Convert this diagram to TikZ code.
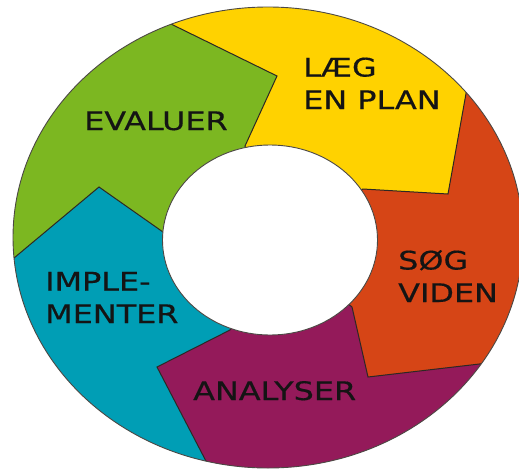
\documentclass[tikz,border=0pt]{standalone}
\usepackage{fontspec}
\setmainfont{DejaVu Sans}[FakeStretch=1.25,FakeBold=0.5]
\usetikzlibrary{calc}
\definecolor{cgreen}{RGB}{124,183,33}
\definecolor{cyellow}{RGB}{255,210,0}
\definecolor{cred}{RGB}{214,69,22}
\definecolor{cpurple}{RGB}{148,26,90}
\definecolor{cteal}{RGB}{0,158,181}
\definecolor{cline}{RGB}{45,40,35}
\definecolor{ctext}{RGB}{20,20,20}
\tikzset{
  border/.style={draw=cline, line width=1pt, line join=miter},
  rim/.style={draw=cline!85, line width=0.9pt},
  lbl/.style={inner sep=0pt, anchor=base west, align=left, text=ctext,
    font=\fontsize{25.5}{32.5}\selectfont}
}
\begin{document}
\begin{tikzpicture}[x=1pt,y=-1pt]
\useasboundingbox (0,0) rectangle (519,471);
\coordinate (c) at (270,240);
% boundaries: outer, tip, inner
\coordinate (o1) at (173,25);  \coordinate (t1) at (277,76);  \coordinate (i1) at (245,146);
\coordinate (o2) at (467,88);  \coordinate (t2) at (448,194); \coordinate (i2) at (363,189);
\coordinate (o3) at (488,363); \coordinate (t3) at (368,377); \coordinate (i3) at (352,307);
\coordinate (o4) at (207,463); \coordinate (t4) at (157,367); \coordinate (i4) at (230,330);
\coordinate (o5) at (14,258);  \coordinate (t5) at (99,187);  \coordinate (i5) at (163,232);
\foreach \k in {1,...,5}{
  \coordinate (e\k) at ($(t\k)!1.5!(o\k)$);
  \coordinate (f\k) at ($(c)!4!(e\k)$);
}
\begin{scope}
  \clip (268,237.5) ellipse [x radius=255, y radius=230.5];
  \fill[cyellow] (c) -- (i1) -- (t1) -- (o1) -- (e1) -- (f1) -- (f2) -- (e2) -- (o2) -- (t2) -- (i2) -- cycle;
  \fill[cred]    (c) -- (i2) -- (t2) -- (o2) -- (e2) -- (f2) -- (f3) -- (e3) -- (o3) -- (t3) -- (i3) -- cycle;
  \fill[cpurple] (c) -- (i3) -- (t3) -- (o3) -- (e3) -- (f3) -- (f4) -- (e4) -- (o4) -- (t4) -- (i4) -- cycle;
  \fill[cteal]   (c) -- (i4) -- (t4) -- (o4) -- (e4) -- (f4) -- (f5) -- (e5) -- (o5) -- (t5) -- (i5) -- cycle;
  \fill[cgreen]  (c) -- (i5) -- (t5) -- (o5) -- (e5) -- (f5) -- (f1) -- (e1) -- (o1) -- (t1) -- (i1) -- cycle;
  \foreach \k in {1,...,5}{
    \draw[border] (c) -- (i\k) -- (t\k) -- (e\k);
  }
\end{scope}
\draw[rim] (268,237.5) ellipse [x radius=255, y radius=230.5];
\fill[white] (270,240) ellipse [x radius=107.5, y radius=95];
\draw[rim] (270,240) ellipse [x radius=107.5, y radius=95];
% labels (base anchor = baseline of last line)
\node[lbl] (plan) at (303,109) {LÆG\\EN PLAN};
\node[lbl] (evaluer) at (84,130) {EVALUER};
\node[lbl] (viden) at (398,302) {SØG\\VIDEN};
\node[lbl] (impl) at (45,323) {IMPLE-\\MENTER};
\node[lbl] (analyser) at (193,400) {ANALYSER};
\end{tikzpicture}
\end{document}
